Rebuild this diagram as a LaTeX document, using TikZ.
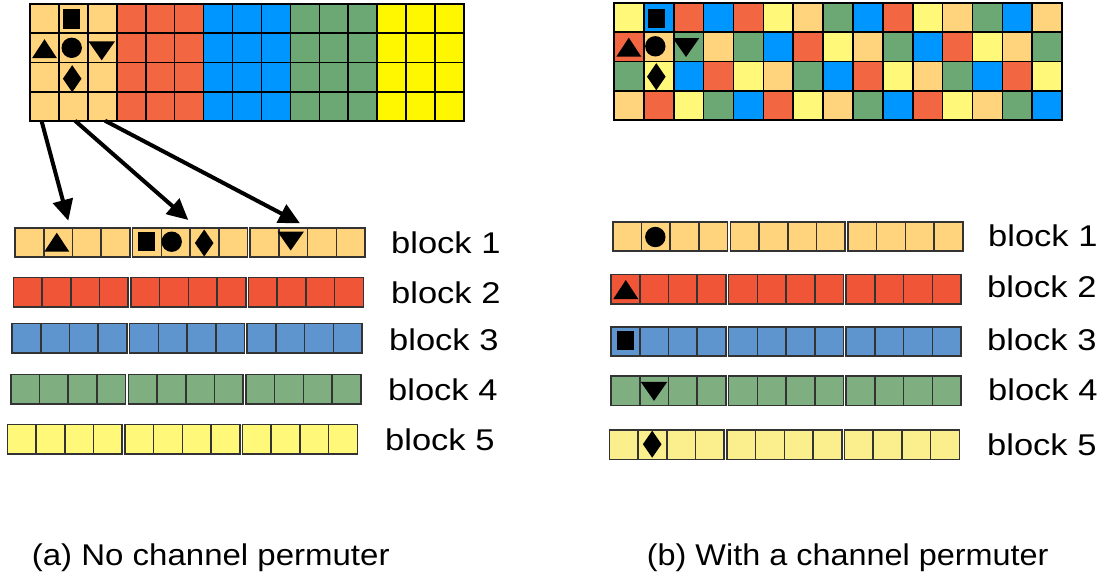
\documentclass[tikz,border=0pt]{standalone}
\usepackage{fontspec}
\setmainfont{Liberation Sans}
\usetikzlibrary{arrows.meta}

% cell colours
\definecolor{pO}{HTML}{FFD47C}
\definecolor{pR}{HTML}{F26642}
\definecolor{pB}{HTML}{0096FF}
\definecolor{pG}{HTML}{6CA874}
\definecolor{pYs}{HTML}{FFF700}
\definecolor{pY}{HTML}{FFF878}
% block colours
\definecolor{bO}{HTML}{FFD47C}
\definecolor{bR}{HTML}{F15537}
\definecolor{bB}{HTML}{5F95CE}
\definecolor{bG}{HTML}{7FAF80}
\definecolor{bY}{HTML}{FFF878}
\definecolor{bYl}{HTML}{FBEE8D}
\definecolor{edge}{HTML}{333333}

% black marker glyphs, centred at (#1,#2)
\newcommand\symTup[2]{\fill[black] ({#1-12.5},{#2+9.5}) -- ({#1+12.5},{#2+9.5}) -- (#1,{#2-9.5}) -- cycle;}
\newcommand\symTdn[2]{\fill[black] ({#1-13.3},{#2-9.5}) -- ({#1+13.3},{#2-9.5}) -- (#1,{#2+9.5}) -- cycle;}
\newcommand\symSq[2]{\fill[black] ({#1-8.7},{#2-9.8}) rectangle ({#1+8.7},{#2+9.8});}
\newcommand\symCi[2]{\fill[black] (#1,#2) circle[radius=10.2];}
\newcommand\symDi[2]{\fill[black] ({#1-9.3},#2) -- (#1,{#2-13.5}) -- ({#1+9.3},#2) -- (#1,{#2+13.5}) -- cycle;}

% one block: three groups of four cells, top-left corner (#1,#2), fill #3
\newcommand\blockrow[3]{%
  \foreach \g in {0,1,2}{\foreach \k in {0,...,3}{
    \filldraw[fill=#3, blk] ({#1+\g*117.6+\k*28.7},#2) rectangle ++(28.7,29.4);}}}

\begin{document}
\begin{tikzpicture}[x=1pt,y=-1pt,
  grid/.style={draw=black, line width=1.6pt},
  blk/.style={draw=edge, line width=1.6pt},
  arr/.style={line width=4pt, -{Triangle[length=21pt,width=20pt]}},
  lbl/.style={anchor=base west, inner sep=0pt, font=\fontsize{30}{36}\selectfont},
]
\useasboundingbox (0,0) rectangle (1107,573);

% ---------- (a) channels grouped by colour ----------
\foreach \c [count=\i from 0] in {pO,pO,pO,pR,pR,pR,pB,pB,pB,pG,pG,pG,pYs,pYs,pYs}{
  \foreach \r in {0,...,3}{
    \filldraw[fill=\c, grid] ({30+\i*28.93},{4+\r*29.25}) rectangle ++(28.93,29.25);
  }}
\symSq{71.7}{18.8}
\symTup{44.5}{48.7}
\symCi{71.7}{47.8}
\symTdn{101.7}{50.8}
\symDi{72.2}{78.7}

\blockrow{15}{227.7}{bO}
\blockrow{13.3}{277.3}{bR}
\blockrow{12}{323.6}{bB}
\blockrow{10.7}{374.4}{bG}
\blockrow{7.3}{424.4}{bY}
\symTup{56.8}{242.2}
\symSq{146.3}{241.3}
\symCi{171.7}{241.7}
\symDi{204.2}{243}
\symTdn{290.7}{241}

\coordinate (s1) at (41.7,121.5);
\coordinate (s2) at (75,120.7);
\coordinate (s3) at (105,120.7);
\coordinate (t1) at (68.3,220.7);
\coordinate (t2) at (188.3,220);
\coordinate (t3) at (300,223.3);
\draw[arr] (s1) -- (t1);
\draw[arr] (s2) -- (t2);
\draw[arr] (s3) -- (t3);

\node[lbl] (la1) at (391,253.3) {\scalebox{1.15}[1]{block 1}};
\node[lbl] (la2) at (391,303.3) {\scalebox{1.15}[1]{block 2}};
\node[lbl] (la3) at (389,350.5) {\scalebox{1.15}[1]{block 3}};
\node[lbl] (la4) at (388,400) {\scalebox{1.15}[1]{block 4}};
\node[lbl] (la5) at (385,450) {\scalebox{1.15}[1]{block 5}};
\node[lbl] (capa) at (31.7,565.5) {\scalebox{1.1}[1]{(a) No channel permuter}};

% ---------- (b) channels permuted ----------
\foreach \row [count=\r from 0] in {
  {Y,B,R,B,R,Y,O,G,B,R,Y,O,G,B,O},
  {R,O,G,O,G,B,R,Y,O,G,B,R,Y,O,G},
  {G,Y,B,R,Y,O,G,B,R,Y,O,G,B,R,Y},
  {O,R,Y,G,B,R,Y,O,G,B,R,Y,O,G,B}}{
  \foreach \c [count=\i from 0] in \row {
    \filldraw[fill=p\c, grid] ({614+\i*29.87},{3+\r*29.25}) rectangle ++(29.87,29.25);
  }}
\symSq{656.7}{18.3}
\symTup{628.8}{47.2}
\symCi{655.3}{46.3}
\symTdn{686}{47.5}
\symDi{656.3}{76.7}

\blockrow{612.7}{221.7}{bO}
\blockrow{611}{274.3}{bR}
\blockrow{611}{326.7}{bB}
\blockrow{611}{376.2}{bG}
\blockrow{609.3}{430}{bYl}
\symCi{655.3}{237}
\symTup{625.8}{289.5}
\symSq{625.5}{340.3}
\symTdn{654}{391.3}
\symDi{652.2}{444.2}

\node[lbl] (lb1) at (988,246) {\scalebox{1.15}[1]{block 1}};
\node[lbl] (lb2) at (987,297) {\scalebox{1.15}[1]{block 2}};
\node[lbl] (lb3) at (987,350) {\scalebox{1.15}[1]{block 3}};
\node[lbl] (lb4) at (988,400) {\scalebox{1.15}[1]{block 4}};
\node[lbl] (lb5) at (987,455) {\scalebox{1.15}[1]{block 5}};
\node[lbl] (capb) at (646.7,565.5) {\scalebox{1.08}[1]{(b) With a channel permuter}};
\end{tikzpicture}
\end{document}
